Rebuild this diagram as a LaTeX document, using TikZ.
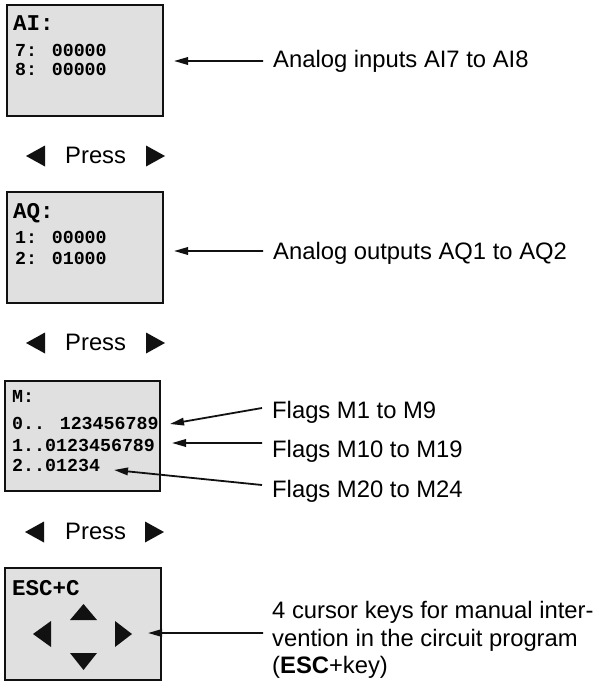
\documentclass[tikz,border=0pt]{standalone}
\usepackage{fontspec}
\setmainfont{Liberation Sans}
\newfontfamily\lcdfont{Liberation Mono}
\usetikzlibrary{arrows.meta}
\definecolor{lcdfill}{HTML}{E0E0E0}
\definecolor{ink}{HTML}{111111}
\begin{document}
\begin{tikzpicture}[x=1bp,y=-1bp,
  lcd/.style={draw=ink, line width=1.4bp, fill=lcdfill, inner sep=0, minimum width=156bp, minimum height=111bp},
  head/.style={font=\lcdfont\bfseries\fontsize{22.5bp}{22bp}\selectfont, anchor=base west, inner sep=0},
  row/.style={font=\lcdfont\bfseries\fontsize{18.3bp}{18bp}\selectfont, anchor=base west, inner sep=0},
  lab/.style={font=\fontsize{23.8bp}{27.5bp}\selectfont, anchor=base west, inner sep=0, text height=17bp, text depth=0bp},
  arr/.style={line width=1.8bp, draw=ink, -{Triangle[length=14bp,width=7.5bp]}},
  tri/.style={fill=ink}]
\useasboundingbox (0,0) rectangle (596,682);

% ---- Box 1: AI
\node[lcd] (box1) at (85,60.5) {};
\node[head] (ai) at (13,31) {AI:};
\node[row] (ai7) at (15,57) {7: 00000};
\node[row] (ai8) at (15,76) {8: 00000};
\coordinate (t1) at (174,61);
\node[lab] (l1) at (273,68) {Analog inputs AI7 to AI8};
\draw[arr] ([xshift=-10bp,yshift=-1.5bp]l1.west) -- (t1);

% ---- Press 1
\node[lab] (p1) at (65,163) {Press};
\fill[tri] (45,145.5) -- (45,166.5) -- (26,156) -- cycle;
\fill[tri] (146,145.5) -- (146,166.5) -- (165,156) -- cycle;

% ---- Box 2: AQ
\node[lcd] (box2) at (85,247.5) {};
\node[head] (aq) at (13,218) {AQ:};
\node[row] (aq1) at (15,243) {1: 00000};
\node[row] (aq2) at (15,264) {2: 01000};
\coordinate (t2) at (174,251);
\node[lab] (l2) at (273,259) {Analog outputs AQ1 to AQ2};
\draw[arr] ([xshift=-10bp,yshift=-0.5bp]l2.west) -- (t2);

% ---- Press 2
\node[lab] (p2) at (65,350) {Press};
\fill[tri] (45,332.5) -- (45,353.5) -- (26,343) -- cycle;
\fill[tri] (146,332.5) -- (146,353.5) -- (165,343) -- cycle;

% ---- Box 3: M
\node[lcd, minimum width=155bp, minimum height=110bp] (box3) at (82.5,436) {};
\node[row] (m) at (12,402) {M:};
\node[row] (m0) at (12,429) {0.. 123456789};
\node[row] (m1) at (12,451) {1..0123456789};
\node[row] (m2) at (12,471) {2..01234};
\coordinate (t3) at (170,424);
\coordinate (t4) at (172,443);
\coordinate (t5) at (114,470);
\node[lab] (l3) at (272,418) {Flags M1 to M9};
\node[lab] (l4) at (272,457) {Flags M10 to M19};
\node[lab] (l5) at (272,497) {Flags M20 to M24};
\draw[arr] ([xshift=-10bp,yshift=1.5bp]l3.west) -- (t3);
\draw[arr] ([xshift=-10bp,yshift=5.5bp]l4.west) -- (t4);
\draw[arr] ([xshift=-10bp,yshift=3.5bp]l5.west) -- (t5);

% ---- Press 3
\node[lab] (p3) at (65,539) {Press};
\fill[tri] (44,521.5) -- (44,542.5) -- (25,532) -- cycle;
\fill[tri] (145,521.5) -- (145,542.5) -- (164,532) -- cycle;

% ---- Box 4: ESC+C
\node[lcd, minimum width=156bp, minimum height=112bp] (box4) at (83,624) {};
\node[head] (esc) at (12,595) {ESC+C};
\fill[tri] (70,620) -- (97,620) -- (83.5,604) -- cycle;
\fill[tri] (51,621) -- (51,647) -- (33,634) -- cycle;
\fill[tri] (115,621) -- (115,647) -- (132,634) -- cycle;
\fill[tri] (70,653) -- (97,653) -- (83.5,670) -- cycle;
\coordinate (t6) at (148,633);
\node[lab] (c1) at (272,618) {4 cursor keys for manual inter-};
\node[lab] (c2) at (272,646) {vention in the circuit program};
\node[lab] (c3) at (272,673) {(\textbf{ESC}+key)};
\draw[arr] ([xshift=-9bp,yshift=-23.5bp]c1.west) -- (t6);
\end{tikzpicture}
\end{document}
